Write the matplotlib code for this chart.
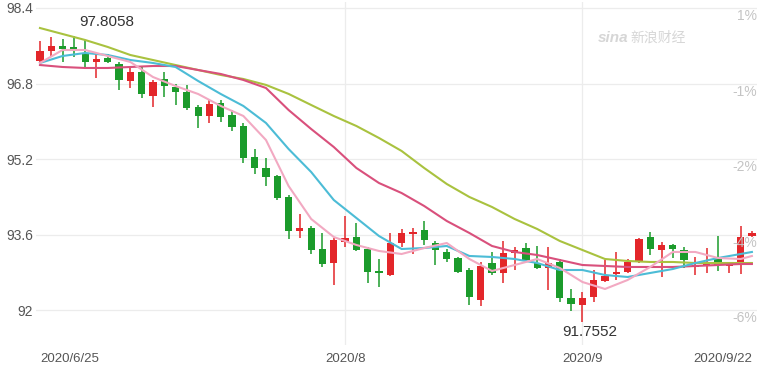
import numpy as np
import matplotlib.pyplot as plt
import matplotlib.transforms as mtransforms

# daily candles 2020/6/25 - 2020/9/22 (US dollar index)
opens = [97.277, 97.489, 97.595, 97.574, 97.447, 97.256, 97.341, 97.214, 96.853, 97.044,
         96.536, 96.896, 96.726, 96.620, 96.303, 96.112, 96.387, 96.133, 95.900, 95.243,
         95.010, 94.841, 94.396, 93.675, 93.739, 93.294, 92.997, 93.442, 93.548, 93.294,
         92.828, 92.743, 93.421, 93.612, 93.697, 93.421, 93.231, 93.103, 92.849, 92.214,
         92.997, 92.786, 93.209, 93.315, 92.997, 92.892, 93.019, 92.256, 92.108, 92.277,
         92.616, 92.764, 92.807, 93.040, 93.548, 93.273, 93.379, 93.273, 92.913, 92.955,
         93.082, 92.934, 93.019, 93.569]
highs = [97.701, 97.786, 97.743, 97.8058, 97.722, 97.447, 97.425, 97.256, 97.150, 97.150,
         96.875, 97.044, 96.790, 96.769, 96.345, 96.451, 96.451, 96.239, 95.964, 95.413,
         95.222, 94.862, 94.438, 94.036, 93.781, 93.633, 93.527, 93.993, 93.845, 93.336,
         93.082, 93.633, 93.718, 93.739, 93.887, 93.464, 93.294, 93.125, 92.892, 93.019,
         93.231, 93.464, 93.336, 93.421, 93.358, 93.336, 93.082, 92.447, 92.383, 92.849,
         93.061, 93.231, 93.082, 93.527, 93.654, 93.442, 93.400, 93.336, 93.125, 93.315,
         93.569, 92.997, 93.781, 93.675]
lows = [97.256, 97.383, 97.256, 97.362, 97.150, 96.917, 97.235, 96.663, 96.705, 96.493,
        96.303, 96.514, 96.345, 96.239, 95.858, 95.964, 95.985, 95.794, 95.116, 94.883,
        94.629, 94.332, 93.506, 93.527, 93.188, 92.913, 92.531, 93.336, 93.250, 92.574,
        92.489, 92.722, 93.336, 93.188, 93.379, 92.955, 93.019, 92.786, 92.108, 92.086,
        92.743, 92.574, 92.849, 93.019, 92.870, 92.425, 92.171, 91.981, 91.7552, 92.171,
        92.595, 92.637, 92.786, 92.997, 93.167, 92.701, 93.103, 92.892, 92.743, 92.786,
        92.828, 92.786, 92.764, 93.548]
closes = [97.489, 97.595, 97.531, 97.489, 97.256, 97.319, 97.256, 96.875, 97.044, 96.578,
          96.832, 96.747, 96.620, 96.281, 96.112, 96.366, 96.091, 95.879, 95.222, 95.010,
          94.819, 94.375, 93.675, 93.739, 93.273, 92.976, 93.485, 93.527, 93.273, 92.807,
          92.786, 93.421, 93.633, 93.654, 93.485, 93.273, 93.082, 92.807, 92.277, 92.934,
          92.786, 93.209, 93.273, 93.061, 92.892, 92.997, 92.256, 92.129, 92.256, 92.637,
          92.722, 92.807, 93.019, 93.506, 93.294, 93.379, 93.294, 93.061, 92.955, 92.997,
          92.955, 92.976, 93.548, 93.633]

# moving averages every 2 sessions (+ last one)
ma_idx = list(range(0, 63, 2)) + [63]
ma5 = [97.235, 97.510, 97.510, 97.383, 97.256, 96.938, 96.747, 96.578, 96.324, 96.112, 95.603,
       94.629, 93.930, 93.548, 93.379, 93.252, 93.188, 93.315, 93.421, 93.082, 92.828, 92.955,
       93.082, 92.892, 92.595, 92.447, 92.637, 92.913, 93.231, 93.231, 93.103, 93.082, 93.146]
ma10 = [97.235, 97.383, 97.447, 97.404, 97.298, 97.235, 97.150, 96.853, 96.578, 96.324, 95.964,
        95.413, 94.925, 94.332, 93.951, 93.569, 93.294, 93.315, 93.358, 93.146, 93.125, 93.082,
        92.997, 92.849, 92.849, 92.743, 92.701, 92.786, 92.870, 92.997, 93.103, 93.188, 93.231]
ma20 = [97.192, 97.150, 97.129, 97.129, 97.150, 97.171, 97.171, 97.086, 97.002, 96.875, 96.705,
        96.239, 95.836, 95.455, 95.010, 94.692, 94.480, 94.205, 93.887, 93.633, 93.358, 93.231,
        93.167, 93.061, 92.955, 92.934, 92.913, 92.913, 92.913, 92.934, 92.955, 92.976, 92.976]
ma30 = [97.976, 97.849, 97.722, 97.574, 97.404, 97.298, 97.192, 97.086, 96.981, 96.896, 96.770,
        96.580, 96.345, 96.112, 95.900, 95.646, 95.371, 95.010, 94.671, 94.396, 94.184, 93.930,
        93.718, 93.464, 93.273, 93.082, 93.040, 93.019, 93.019, 92.997, 92.997, 92.997, 92.997]

y_ticks = [92, 93.6, 95.2, 96.8, 98.4]
y_labels = ["92", "93.6", "95.2", "96.8", "98.4"]
pct_labels = ["-6%", "-4%", "-2%", "-1%", "1%"]
x_ticks = [0, 27, 48, 63]
x_labels = ["2020/6/25", "2020/8", "2020/9", "2020/9/22"]

plt.rcParams['font.family'] = ['Liberation Sans', 'DejaVu Sans']

UP = "#e3262a"
DOWN = "#1b9b2b"

fig = plt.figure(figsize=(7.6, 3.68), dpi=100)
ax = fig.add_axes([36 / 760, 1 - 345 / 368, (757 - 36) / 760, 343 / 368])
ax.set_xlim(-0.35, 63.45)
ax.set_ylim(91.26, 98.527)

for s in ax.spines.values():
    s.set_visible(False)

# grid
for v in y_ticks:
    ax.axhline(v, color="#ececec", lw=0.9, zorder=0)
for v in x_ticks[1:3]:
    ax.axvline(v, color="#ececec", lw=0.9, zorder=0)

# candles
x = np.arange(len(opens))
for i in x:
    o, h, l, c = opens[i], highs[i], lows[i], closes[i]
    col = UP if c >= o else DOWN
    ax.vlines(i, l, h, color=col, lw=1.1, zorder=2)
    ax.bar(i, max(abs(c - o), 0.025), bottom=min(o, c), width=0.64, color=col, zorder=2)

# moving averages
ax.plot(ma_idx, ma30, color="#a9c23f", lw=1.5, zorder=3, solid_joinstyle="round")
ax.plot(ma_idx, ma20, color="#d9507c", lw=1.5, zorder=3, solid_joinstyle="round")
ax.plot(ma_idx, ma10, color="#4cbcd6", lw=1.5, zorder=3, solid_joinstyle="round")
ax.plot(ma_idx, ma5, color="#f2a9c2", lw=1.5, zorder=3, solid_joinstyle="round")

# axis labels
ax.set_yticks(y_ticks)
ax.set_yticklabels(y_labels)
ax.tick_params(axis="y", length=0, pad=2, labelsize=10, labelcolor="#555555")
ax.set_xticks(x_ticks)
ax.set_xticklabels(x_labels)
ax.tick_params(axis="x", length=0, pad=6, labelsize=9.5, labelcolor="#555555")
xt = ax.get_xticklabels()
xt[0].set_ha("left")
xt[-1].set_ha("right")

trans = mtransforms.blended_transform_factory(ax.transAxes, ax.transData)
for v, lab in zip(y_ticks, pct_labels):
    ax.text(1.0, v - 0.17, lab, transform=trans, ha="right", va="center",
            fontsize=10, color="#c4c4c4")

# high / low annotations
imax = int(np.argmax(highs))
imin = int(np.argmin(lows))
ax.text(imax + 0.5, highs[imax] + 0.3, "97.8058", ha="left", va="center", fontsize=11, color="#333333")
ax.text(imin - 1.8, lows[imin] - 0.21, "91.7552", ha="left", va="center", fontsize=11, color="#333333")

# watermark
fig.text(598 / 760, 1 - 38 / 368, "sina", fontsize=11, color="#d6d6d6", style="italic",
         fontweight="bold", ha="left", va="center")
fig.text(630 / 760, 1 - 38 / 368, "新浪财经", fontsize=10, color="#d6d6d6", style="italic",
         ha="left", va="center", family=["Noto Sans CJK SC", "DejaVu Sans"])

plt.savefig("out.png", dpi=100)
